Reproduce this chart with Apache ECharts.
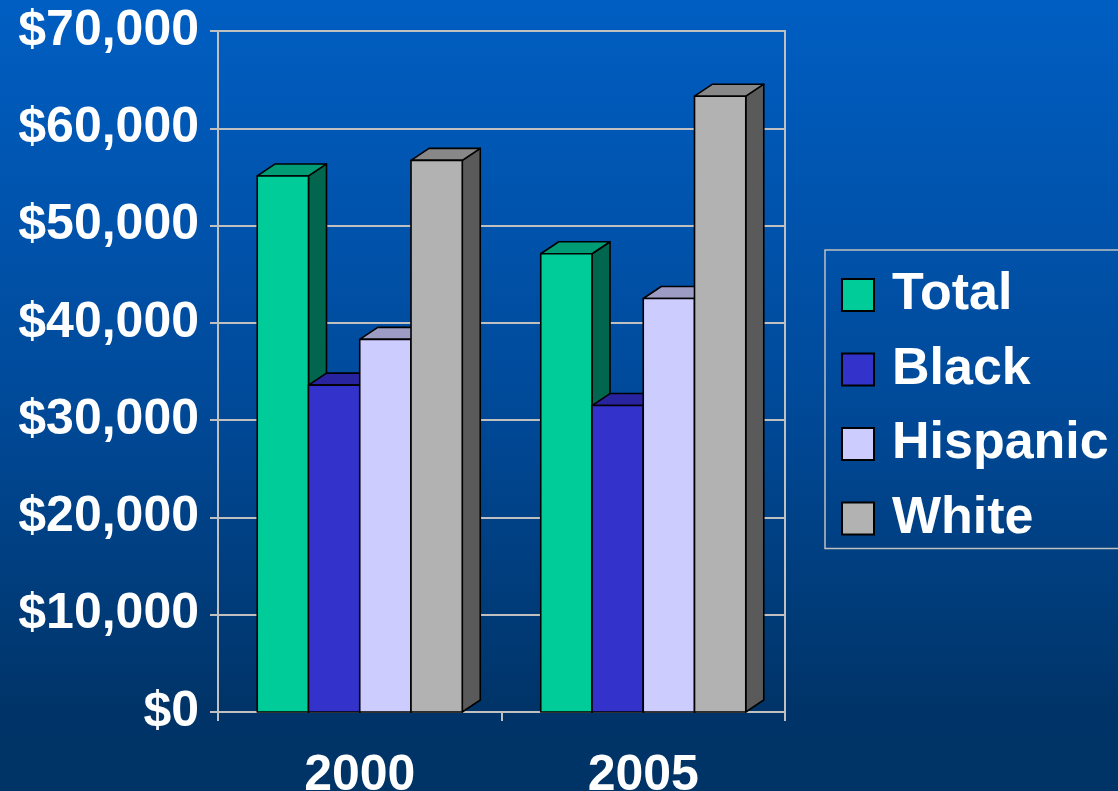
<!DOCTYPE html>
<html>
<head>
<meta charset="utf-8">
<script src="https://cdn.jsdelivr.net/npm/echarts@6/dist/echarts.min.js"></script>
<style>
html,body{margin:0;padding:0;background:#003366;}
#chart{width:1118px;height:791px;}
</style>
</head>
<body>
<div id="chart"></div>
<script>
var categories = ['2000', '2005'];
var seriesNames = ['Total', 'Black', 'Hispanic', 'White'];
var totalValues = [55100, 47100];
var blackValues = [33600, 31500];
var hispanicValues = [38300, 42500];
var whiteValues = [56700, 63300];
var yTicks = [0, 10000, 20000, 30000, 40000, 50000, 60000, 70000];

var allValues = [totalValues, blackValues, hispanicValues, whiteValues];
var frontColors = ['#00CC99', '#3333CC', '#CCCCFF', '#B2B2B2'];
var topColors = ['#009C76', '#28239E', '#9C9CC4', '#888888'];
var sideColors = ['#00664D', '#1E1A7A', '#6E6E99', '#5A5A5A'];

var DX = 18, DY = 12;
var BAR_FRAC = 0.1808;

function makeRender(si) {
  return function (params, api) {
    var cat = api.value(0);
    var val = api.value(1);
    var base = api.coord([cat, 0]);
    var topPt = api.coord([cat, val]);
    var band = api.size([1, 0])[0];
    var bw = band * BAR_FRAC;
    var x0 = base[0] - 2 * bw + si * bw;
    var x1 = x0 + bw;
    var yb = base[1];
    var yt = topPt[1];
    var stroke = {stroke: '#000000', lineWidth: 1.6, lineJoin: 'round'};
    return {
      type: 'group',
      children: [
        {type: 'polygon', shape: {points: [[x1, yt], [x1 + DX, yt - DY], [x1 + DX, yb - DY], [x1, yb]]},
          style: Object.assign({fill: sideColors[si]}, stroke)},
        {type: 'polygon', shape: {points: [[x0, yt], [x0 + DX, yt - DY], [x1 + DX, yt - DY], [x1, yt]]},
          style: Object.assign({fill: topColors[si]}, stroke)},
        {type: 'rect', shape: {x: x0, y: yt, width: bw, height: yb - yt},
          style: Object.assign({fill: frontColors[si]}, stroke)}
      ]
    };
  };
}

var series = seriesNames.map(function (name, si) {
  return {
    name: name,
    type: 'custom',
    z: 3 + si,
    renderItem: makeRender(si),
    itemStyle: {color: frontColors[si], borderColor: '#000', borderWidth: 1.5},
    encode: {x: 0, y: 1},
    data: allValues[si].map(function (v, ci) { return [ci, v]; })
  };
});

var chart = echarts.init(document.getElementById('chart'));
chart.setOption({
  animation: false,
  backgroundColor: {
    type: 'linear', x: 0, y: 0, x2: 0, y2: 1,
    colorStops: [
      {offset: 0, color: '#005EC2'},
      {offset: 0.5, color: '#004A9A'},
      {offset: 0.9, color: '#003468'},
      {offset: 1, color: '#003366'}
    ]
  },
  grid: {
    left: 218, right: 333, top: 31, bottom: 79,
    outerBoundsMode: 'none',
    containLabel: false,
    show: true, borderColor: '#C0C0C0', borderWidth: 2, backgroundColor: 'transparent'
  },
  legend: {
    orient: 'vertical',
    left: 825, top: 250,
    width: 260,
    padding: [15, 20, 0, 16],
    borderColor: '#C0C0C0', borderWidth: 1.5,
    itemWidth: 32, itemHeight: 32,
    itemGap: 14.5,
    icon: 'rect',
    data: seriesNames,
    textStyle: {
      color: '#FFFFFF', fontFamily: 'Liberation Sans, Arial, sans-serif', fontWeight: 'bold',
      fontSize: 52, lineHeight: 60, padding: [0, 0, 0, 13]
    }
  },
  xAxis: {
    type: 'category',
    data: categories,
    axisLine: {show: true, lineStyle: {color: '#C0C0C0', width: 2}},
    axisTick: {show: true, length: 9, lineStyle: {color: '#C0C0C0', width: 2}},
    axisLabel: {color: '#FFFFFF', fontFamily: 'Liberation Sans, Arial, sans-serif', fontWeight: 'bold', fontSize: 50, margin: 39},
    splitLine: {show: false}
  },
  yAxis: {
    type: 'value',
    min: yTicks[0], max: yTicks[yTicks.length - 1], interval: 10000,
    axisLine: {show: true, lineStyle: {color: '#C0C0C0', width: 2}},
    axisTick: {show: true, length: 8, lineStyle: {color: '#C0C0C0', width: 2}},
    splitLine: {show: true, lineStyle: {color: '#C0C0C0', width: 2}},
    axisLabel: {
      color: '#FFFFFF', fontFamily: 'Liberation Sans, Arial, sans-serif', fontWeight: 'bold', fontSize: 50, margin: 19,
      formatter: function (v) { return '$' + v.toLocaleString('en-US'); }
    }
  },
  series: series
});
</script>
</body>
</html>
